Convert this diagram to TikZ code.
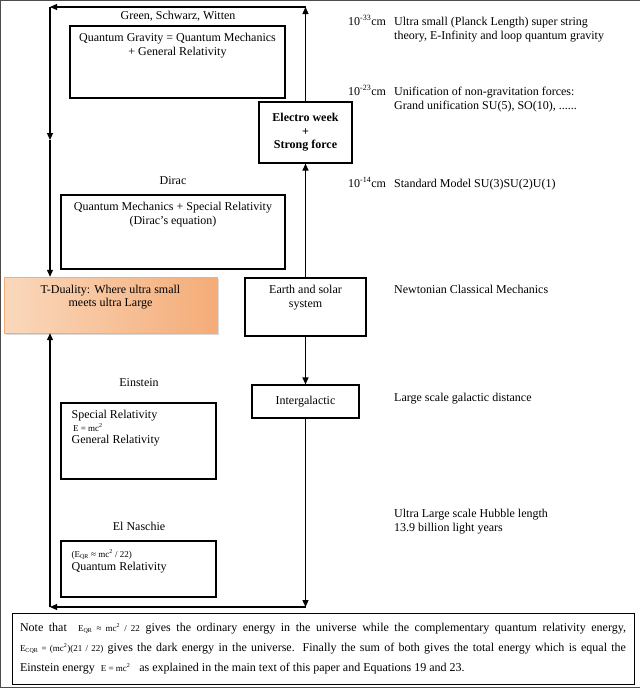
\documentclass[tikz,border=0pt]{standalone}
\usepackage{fontspec}
\setmainfont{Liberation Serif}
\usetikzlibrary{arrows.meta,positioning,shadows}
\definecolor{tdlight}{RGB}{250,216,188}
\definecolor{tdorange}{RGB}{244,172,120}
\newcommand\fsz{\fontsize{12}{13.5}\selectfont}
\newcommand\eqsm[1]{{\fontsize{9}{10}\selectfont #1}}
\newcommand\expo[1]{10\textsuperscript{#1}cm}
\begin{document}
\begin{tikzpicture}[x=1pt,y=-1pt,font=\fsz,
    box/.style={draw, line width=1.2pt, inner sep=0pt},
    intxt/.style={inner sep=0pt, align=center},
    side/.style={anchor=base west, inner sep=0pt, align=left},
    arr/.style={line width=1.2pt, -{Triangle[length=7pt,width=6pt]}}]
    \useasboundingbox (0,0) rectangle (640,689);
    \draw[line width=0.8pt, black!70] (639.5,0.5) -- (0.5,0.5) -- (0.5,687.5) -- (639.5,687.5);

    % boxes on the left
    \node (gsw) at (178,16) {Green, Schwarz, Witten};
    \node[box, minimum width=215pt, minimum height=72pt] (qg) at (177.5,62) {};
    \node[intxt, below=8pt of qg.north] (qgtxt) {Quantum Gravity = Quantum Mechanics\\+ General Relativity};

    \node (dlabel) at (173,181) {Dirac};
    \node[box, minimum width=224pt, minimum height=74pt] (dirac) at (173,232) {};
    \node[intxt, below=8pt of dirac.north] (dtxt) {Quantum Mechanics + Special Relativity\\(Dirac’s equation)};

    \node[inner sep=0pt, draw=tdorange, left color=tdlight, right color=tdorange,
      minimum width=213pt, minimum height=56pt,
      drop shadow={shadow xshift=2pt, shadow yshift=-2pt, opacity=0.3}] (tdual) at (110.5,305) {};
    \node[intxt, below=8pt of tdual.north] (tdtxt) {T-Duality: Where ultra small\\meets ultra Large};

    \node (elabel) at (139,383) {Einstein};
    \node[box, minimum width=155pt, minimum height=76pt] (einst) at (138.5,441) {};
    \node[inner sep=0pt, align=left, below right=8pt and 11pt of einst.north west] (etxt)
      {Special Relativity\\[-1pt]{\fontsize{9}{10}\selectfont\,E = mc\textsuperscript{2}}\\[-1pt]General Relativity};

    \node (nlabel) at (139,526) {El Naschie};
    \node[box, minimum width=155pt, minimum height=56pt] (naschie) at (138.5,569) {};
    \node[inner sep=0pt, align=left, below right=9pt and 11pt of naschie.north west] (ntxt)
      {{\fontsize{9}{10}\selectfont(E\textsubscript{QR} ≈ mc\textsuperscript{2} / 22)}\\Quantum Relativity};

    % boxes on the spine
    \node[box, minimum width=93pt, minimum height=61pt, align=center,
      font=\bfseries\fsz] (ew) at (305.5,132.5) {Electro week\\+\\Strong force};
    \node[box, minimum width=121pt, minimum height=58pt] (earth) at (305.5,307) {};
    \node[intxt, below=8pt of earth.north] (etxt2) {Earth and solar\\system};
    \node[box, minimum width=107pt, minimum height=33pt] (inter) at (305.5,401.5) {Intergalactic};

    % scales (base of a two-line node is its last line)
    \node[side] (s33) at (348,25) {\expo{-33}};
    \node[side] (t33) at (394,39) {Ultra small (Planck Length) super string\\theory, E-Infinity and loop quantum gravity};
    \node[side] (s23) at (348,95) {\expo{-23}};
    \node[side] (t23) at (394,109) {Unification of non-gravitation forces:\\Grand unification SU(5), SO(10), ......};
    \node[side] (s14) at (348,187) {\expo{-14}};
    \node[side] (t14) at (394,187) {Standard Model SU(3)SU(2)U(1)};
    \node[side] (tnewton) at (394,293) {Newtonian Classical Mechanics};
    \node[side] (tgal) at (394,401) {Large scale galactic distance};
    \node[side] (thub) at (394,531) {Ultra Large scale Hubble length\\13.9 billion light years};

    % loop
    \coordinate (tr) at (305.5,7);
    \coordinate (tl) at (50,7);
    \coordinate (lmid) at (50,140);
    \coordinate (br) at (305.5,607);
    \coordinate (bl) at (50,607);
    \draw[arr] (ew.north) -- (tr);
    \draw[arr] (tr) -- (tl);
    \draw[arr] (tl) -- (lmid);
    \draw[arr] (lmid) -- (tdual.north -| lmid);
    \draw[arr] (earth.north) -- (ew.south);
    \draw[arr] (earth.south) -- (inter.north);
    \draw[arr] (inter.south) -- (br);
    \draw[arr] (br) -- (bl);
    \draw[arr] (bl) -- (tdual.south -| bl);

    % note
    \node[box, line width=1pt, minimum width=622pt, minimum height=71pt] (note) at (323,648.5) {};
    \node[inner sep=0pt, text width=606pt, align=justify, font=\fontsize{12}{20}\selectfont] (notetxt) at (note.center)
      {Note that \ \eqsm{E\textsubscript{QR} ≈ mc\textsuperscript{2} / 22} gives the ordinary energy in the universe while the complementary quantum relativity energy,\linebreak
       \eqsm{E\textsubscript{CQR} = (mc\textsuperscript{2})(21 / 22)} gives the dark energy in the universe. Finally the sum of both gives the total energy which is equal the\linebreak
       Einstein energy \ \eqsm{E = mc\textsuperscript{2}} \ \ as explained in the main text of this paper and Equations 19 and 23.};
\end{tikzpicture}
\end{document}
